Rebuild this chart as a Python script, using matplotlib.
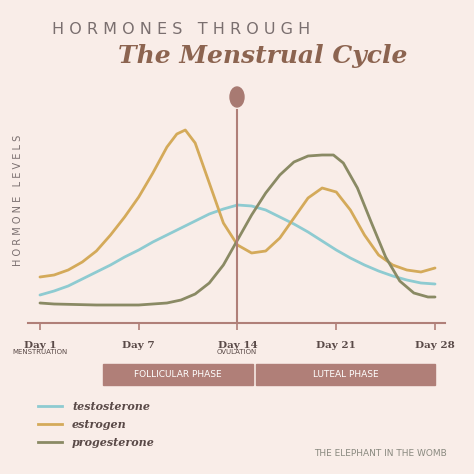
import matplotlib
matplotlib.use("Agg")
import matplotlib.pyplot as plt
from matplotlib.patches import Ellipse, Rectangle

# x = position along the cycle axis (0 = Day 1 tick, 28 = Day 28 tick)
days_t = [0,1,2,3,4,5,6,7,8,9,10,11,12,13,14,15,16,17,18,19,20,21,22,23,24,25,26,27,28]
testo = [28,32,37,44,51,58,66,73,81,88,95,102,109,114,118,117,113,106,99,91,82,73,65,58,52,47,43,40,39]
days_e = [0,1,2,3,4,5,6,7,8,9,9.7,10.3,11,12,13,14,15,16,17,18,19,20,21,22,23,24,25,26,27,28]
estro = [46,48,53,61,72,88,106,126,150,176,189,193,180,140,100,78,70,72,85,105,125,135,131,113,88,68,58,53,51,55]
days_p = [0,1,4,7,9,10,11,12,13,14,15,16,17,18,19,20,20.8,21.5,22.5,23.5,24.5,25.5,26.5,27.5,28]
proge = [20,19,18,18,20,23,29,40,58,83,108,130,148,161,167,168,168,160,135,100,66,42,30,26,26]
tick_pos = [0,7,14,21,28]
tick_labels = ["Day 1","Day 7","Day 14","Day 21","Day 28"]
legend_names = ["testosterone","estrogen","progesterone"]
colors = ["#8ecbd1","#d4aa5a","#8a8a64"]

W = H = 474
bg = "#f9ede8"
rose = "#b07f78"
fig = plt.figure(figsize=(W/100, H/100), dpi=100, facecolor=bg)
def fx(x): return x/W
def fy(y): return 1-y/H
ppd = 99/7

ax = fig.add_axes([fx(28), fy(323), 417/W, 223/H])
ax.set_facecolor("none")
ax.set_xlim(-12/ppd, 28+10/ppd)
ax.set_ylim(0, 223)
for s in ["top","right","left"]:
    ax.spines[s].set_visible(False)
ax.spines["bottom"].set_color(rose)
ax.spines["bottom"].set_linewidth(1.5)
ax.set_yticks([])
ax.set_xticks(tick_pos)
ax.set_xticklabels(tick_labels, fontsize=7.5, fontweight="bold", family="DejaVu Serif")
ax.tick_params(axis="x", colors=rose, length=5, width=1.2, pad=8, labelcolor="#5a4a48")
for d, v, c in [(days_t, testo, colors[0]), (days_e, estro, colors[1]), (days_p, proge, colors[2])]:
    ax.plot(d, v, color=c, lw=2, solid_capstyle="round", solid_joinstyle="round")
ax.axvline(14, ymin=0, ymax=(323-110)/223, color=rose, lw=1.5)

fig.patches.append(Ellipse((fx(237), fy(97)), 14/W, 20/H, transform=fig.transFigure, color="#a87a72"))
fig.text(fx(52), fy(30), "H O R M O N E S   T H R O U G H", fontsize=11.5, color="#7a6f6f", va="center", ha="left")
fig.text(fx(118), fy(56), "The Menstrual Cycle", fontsize=18, fontweight="bold", style="italic",
         family="DejaVu Serif", color="#8c6450", va="center", ha="left")
fig.text(fx(18), fy(200), "H O R M O N E   L E V E L S", rotation=90, fontsize=7, color="#7a6f6f", va="center", ha="center")
fig.text(fx(40), fy(352), "MENSTRUATION", fontsize=5, color="#5a4a48", ha="center", va="center")
fig.text(fx(237), fy(352), "OVULATION", fontsize=5, color="#5a4a48", ha="center", va="center")

for x0, x1, lab in [(103, 253, "FOLLICULAR PHASE"), (256, 435, "LUTEAL PHASE")]:
    fig.patches.append(Rectangle((fx(x0), fy(385)), (x1-x0)/W, 21/H, transform=fig.transFigure, color=rose))
    fig.text(fx((x0+x1)/2), fy(374.5), lab, fontsize=6.5, color="white", ha="center", va="center")

for i, (n, c) in enumerate(zip(legend_names, colors)):
    y = [406, 424, 442][i]
    fig.add_artist(plt.Line2D([fx(38), fx(62)], [fy(y), fy(y)], color=c, lw=2, transform=fig.transFigure))
    fig.text(fx(72), fy(y), n, fontsize=8, fontweight="bold", style="italic", family="DejaVu Serif",
             color="#5a4a48", va="center", ha="left")
fig.text(fx(447), fy(453), "THE ELEPHANT IN THE WOMB", fontsize=6.5, color="#8a8a80", ha="right", va="center")

fig.savefig("out.png", dpi=100, facecolor=bg)
